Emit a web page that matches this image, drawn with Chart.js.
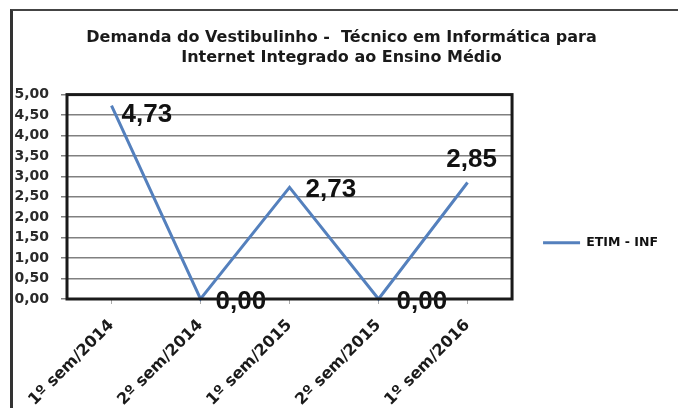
<!DOCTYPE html>
<html>
<head>
<meta charset="utf-8">
<script src="https://cdn.jsdelivr.net/npm/chart.js@4"></script>
<style>
  html, body { margin: 0; padding: 0; background: #fff; overflow: hidden; }
  #frame {
    position: absolute; left: 10px; top: 9px; width: 668px; height: 399px;
    border-left: 3px solid #333; border-top: 2px solid #444;
  }
  #wrap { position: absolute; left: 0; top: 0; width: 665px; height: 397px; }
</style>
</head>
<body>
<div id="frame"><div id="wrap"><canvas id="chart"></canvas></div></div>
<script>
// Dados do gráfico
const semestres = ['1º sem/2014', '2º sem/2014', '1º sem/2015', '2º sem/2015', '1º sem/2016'];
const demandaEtimInf = [4.73, 0.00, 2.73, 0.00, 2.85];
const tituloLinhas = ['Demanda do Vestibulinho -  Técnico em Informática para', 'Internet Integrado ao Ensino Médio'];
const nomeSerie = 'ETIM - INF';

const fmt = v => v.toFixed(2).replace('.', ',');
const FONTE = 'DejaVu Sans, Verdana, sans-serif';

// Rótulos de valor ao lado de cada ponto (deslocamentos em px)
const rotulosPlugin = {
    id: 'rotulos',
    afterDatasetsDraw(chart, args, opts) {
        const ctx = chart.ctx;
        const meta = chart.getDatasetMeta(0);
        ctx.save();
        ctx.font = opts.font;
        ctx.fillStyle = opts.color;
        ctx.textBaseline = 'middle';
        meta.data.forEach((pt, i) => {
            const off = opts.offsets[i];
            ctx.textAlign = off[2];
            ctx.fillText(fmt(demandaEtimInf[i]), pt.x + off[0], pt.y + off[1]);
        });
        ctx.restore();
    }
};

// Moldura escura em volta da área do gráfico
const molduraPlugin = {
    id: 'moldura',
    afterDatasetsDraw(chart) {
        const { ctx, chartArea: a } = chart;
        ctx.save();
        ctx.strokeStyle = '#1a1a1a';
        ctx.lineWidth = 3;
        ctx.strokeRect(a.left, a.top, a.right - a.left, a.bottom - a.top);
        ctx.restore();
    }
};

new Chart(document.getElementById('chart'), {
    type: 'line',
    data: {
        labels: semestres,
        datasets: [{
            label: nomeSerie,
            data: demandaEtimInf,
            borderColor: '#5480bd',
            backgroundColor: '#5480bd',
            borderWidth: 3,
            pointRadius: 0,
            tension: 0,
            clip: false,
        }],
    },
    options: {
        responsive: true,
        maintainAspectRatio: false,
        animation: false,
        layout: { padding: { left: 2, right: 10, bottom: 2 } },
        plugins: {
            title: {
                display: true,
                text: tituloLinhas,
                color: '#1a1a1a',
                font: { family: FONTE, size: 16, weight: 'bold', lineHeight: 1.3 },
                padding: { top: 16, bottom: 26 },
            },
            legend: {
                display: true,
                position: 'right',
                title: { display: true, text: '', padding: 27, font: { size: 12 } },
                labels: {
                    usePointStyle: true,
                    pointStyle: 'line',
                    pointStyleWidth: 37,
                    color: '#111',
                    font: { family: FONTE, size: 12.5, weight: 'bold' },
                    padding: 31,
                },
            },
            tooltip: { enabled: false },
            rotulos: {
                font: 'bold 26px "Liberation Sans", Arial',
                color: '#111',
                offsets: [[10, 9, 'left'], [15, 3, 'left'], [16, 2, 'left'], [18, 3, 'left'], [4, -23, 'center']],
            },
        },
        scales: {
            y: {
                min: 0,
                max: 5,
                afterFit: s => { s.paddingTop = 0; s.width = 52; },
                ticks: {
                    stepSize: 0.5,
                    autoSkip: false,
                    callback: v => fmt(v),
                    color: '#2a2a2a',
                    font: { family: FONTE, size: 14, weight: 'bold' },
                    padding: 12,
                },
                grid: { color: '#808080', lineWidth: 1.5, tickLength: 6 },
                border: { display: false },
            },
            x: {
                offset: true,
                afterFit: s => { s.paddingLeft = 0; s.paddingRight = 0; s.height = 107; },
                ticks: {
                    autoSkip: false,
                    minRotation: 45,
                    maxRotation: 45,
                    color: '#1a1a1a',
                    font: { family: FONTE, size: 16, weight: 'bold' },
                    padding: 12,
                },
                grid: { drawOnChartArea: false, drawTicks: true, tickLength: 5, color: '#aaa' },
                border: { display: false },
            },
        },
    },
    plugins: [rotulosPlugin, molduraPlugin],
});
</script>
</body>
</html>
